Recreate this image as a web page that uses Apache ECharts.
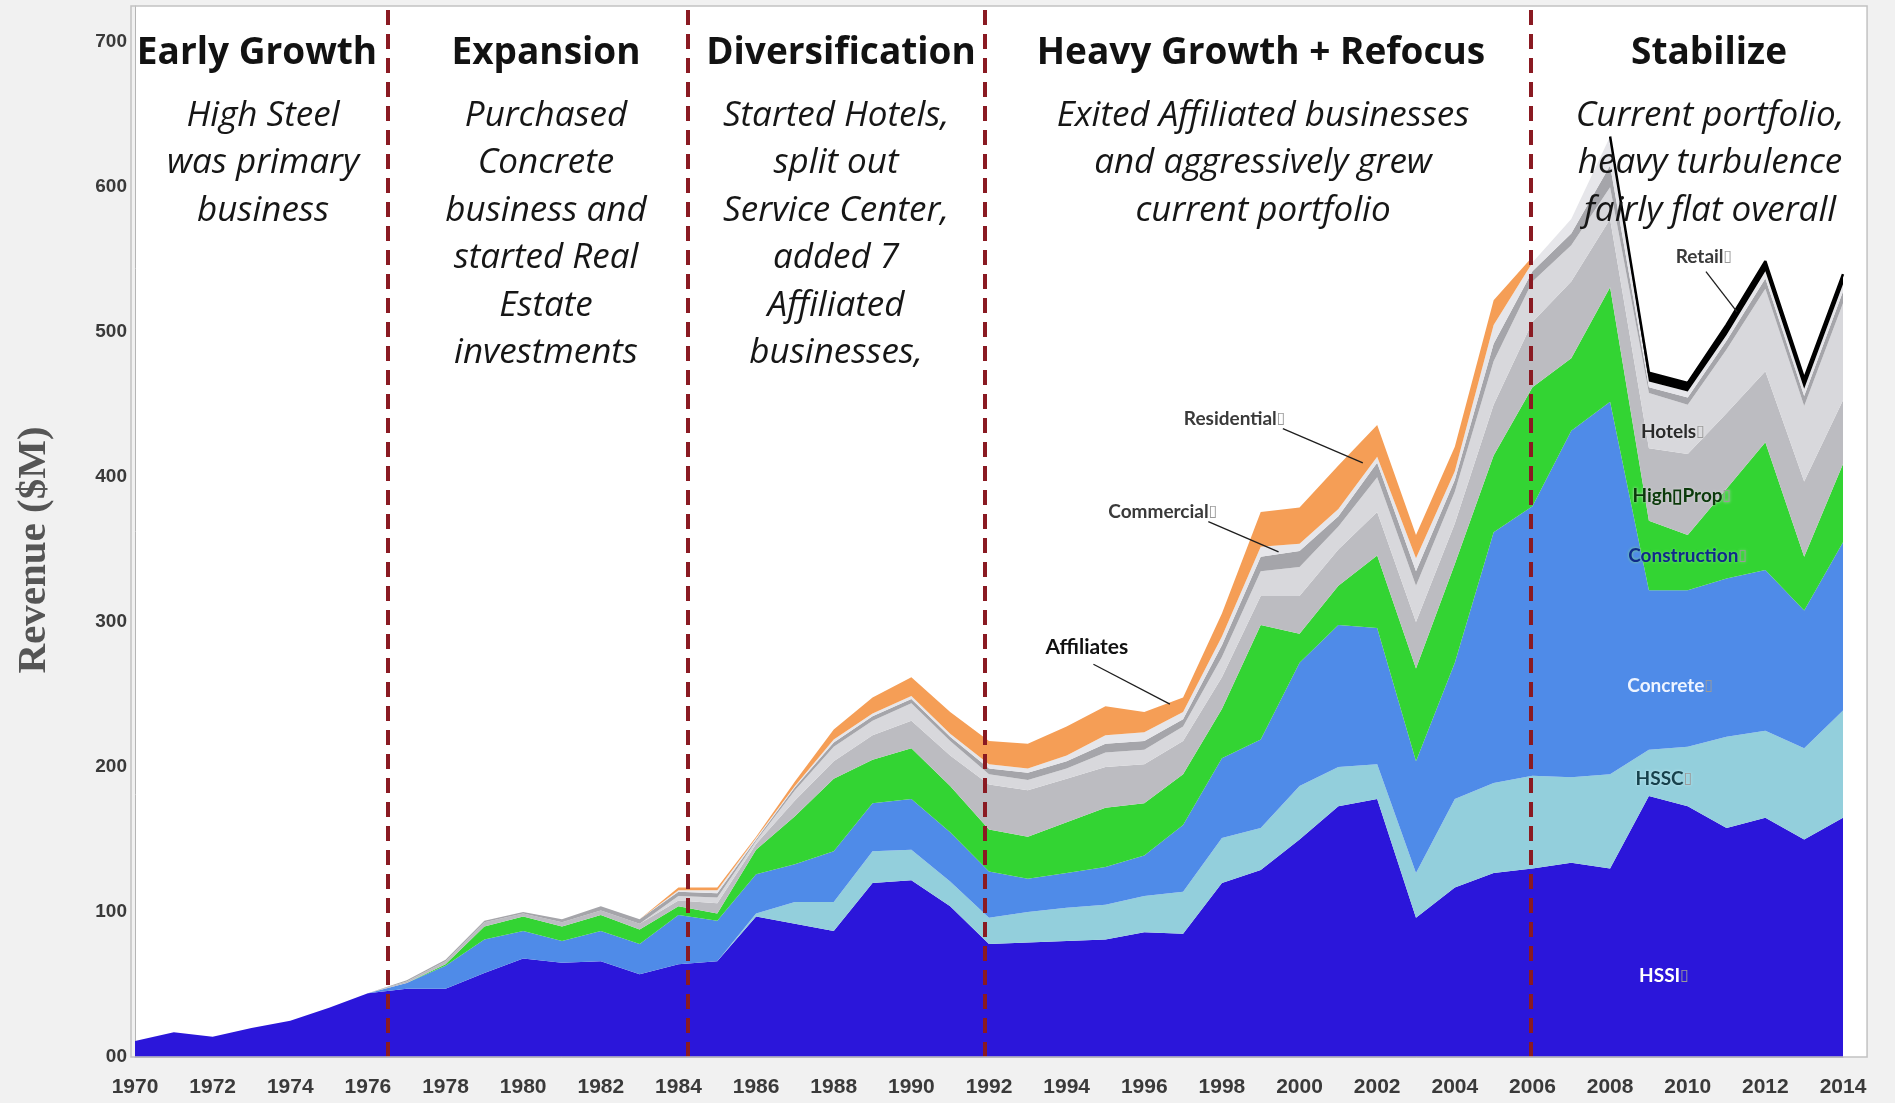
<!DOCTYPE html>
<html>
<head>
<meta charset="utf-8">
<script src="https://cdn.jsdelivr.net/npm/echarts@6/dist/echarts.min.js"></script>
<style>
html,body{margin:0;padding:0;background:#f1f1f1;}
#chart{width:1895px;height:1103px;}
</style>
</head>
<body>
<div id="chart"></div>
<script>
// ---------------- DATA ----------------
const years = ['1970','1971','1972','1973','1974','1975','1976','1977','1978','1979','1980','1981','1982','1983','1984','1985','1986','1987','1988','1989','1990','1991','1992','1993','1994','1995','1996','1997','1998','1999','2000','2001','2002','2003','2004','2005','2006','2007','2008','2009','2010','2011','2012','2013','2014'];

const hssi         = [11,17,14,20,25,34,44,47,47,58,68,65,66,57,64,66,97,92,87,120,122,104,78,79,80,81,86,85,120,129,150,173,178,96,117,127,130,134,130,180,173,158,165,150,165];
const hssc         = [0,0,0,0,0,0,0,0,0,0,0,0,0,0,0,0,2,15,20,22,21,17,18,21,23,24,25,29,31,29,37,27,24,31,61,62,64,59,65,32,41,63,60,63,74];
const concrete     = [0,0,0,0,0,0,0,4,16,23,19,15,21,21,34,28,27,26,35,33,35,34,32,23,24,26,28,46,55,61,85,98,94,77,94,173,186,239,257,110,108,109,111,95,116];
const construction = [0,0,0,0,0,0,0,0,1,9,10,10,11,10,6,5,17,33,50,30,35,32,29,29,35,41,36,35,34,79,20,27,50,64,68,53,82,50,79,48,38,62,88,37,54];
const highProp     = [0,0,0,0,0,0,0,1,2,3,2,3,3,4,4,7,4,11,12,17,19,21,31,32,30,28,27,23,22,20,26,25,30,32,28,35,45,53,47,50,56,52,49,52,44];
const hotels       = [0,0,0,0,0,0,0,0,0,0,0,0,0,0,3,4,2,7,10,10,12,10,7,7,7,10,10,10,14,17,20,16,24,25,22,30,28,25,22,38,34,44,57,52,67];
const commercial   = [0,0,0,0,0,0,0,1,1,1,1,2,3,3,3,3,1,2,3,3,3,3,4,5,5,6,6,5,8,10,11,7,10,10,8,12,7,8,15,4,5,6,7,7,8];
const residential  = [0,0,0,0,0,0,0,0,0,0,0,0,0,0,1,2,1,1,2,2,2,2,3,3,4,6,6,5,6,7,5,5,4,9,6,13,6,10,20,4,4,4,5,5,5];
const affiliates   = [0,0,0,0,0,0,0,0,0,0,0,0,0,0,2,2,1,3,7,11,13,15,16,17,20,20,14,10,16,24,25,30,22,16,17,17,4,null,null,null,null,null,null,null,null];
const retail       = [null,null,null,null,null,null,null,null,null,null,null,null,null,null,null,null,null,null,null,null,null,null,null,null,null,null,null,null,null,null,null,null,null,null,null,null,null,null,0,6,6,7,7,7,7];

const yTicks = [0,100,200,300,400,500,600,700];
const phaseBreaks = [1976.5, 1984.25, 1991.9, 2005.95];
const phaseTitles = ['Early Growth','Expansion','Diversification','Heavy Growth + Refocus','Stabilize'];
const phaseNotes = [
  ['High Steel','was primary','business'],
  ['Purchased','Concrete','business and','started Real','Estate','investments'],
  ['Started Hotels,','split out','Service Center,','added 7','Affiliated','businesses,'],
  ['Exited Affiliated businesses','and aggressively grew','current portfolio'],
  ['Current portfolio,','heavy turbulence','fairly flat overall']
];
const seriesNames = ['HSSI','HSSC','Concrete','Construction','High Prop','Hotels','Commercial','Residential','Affiliates','Retail'];

// ---------------- CHART ----------------
const colors = ['#2b16da','#93cfdc','#4f8be8','#33d433','#bcbcc1','#d8d8dc','#a5a5aa','#e6e6ea','#f59e56','#000000'];
const valueSets = [hssi,hssc,concrete,construction,highProp,hotels,commercial,residential,affiliates,retail];
const firstYear = Number(years[0]), lastYear = Number(years[years.length - 1]);

const series = valueSets.map((vals, i) => ({
  name: seriesNames[i],
  type: 'line',
  stack: 'rev',
  symbol: 'none',
  smooth: false,
  xAxisIndex: 0,
  yAxisIndex: 0,
  data: vals,
  lineStyle: i === 9 ? {width: 2.5, color: '#000'} : {width: 0},
  areaStyle: {color: colors[i], opacity: 1},
  itemStyle: {color: colors[i]},
  silent: true,
  z: 2
}));

series.push({
  name: 'phases',
  type: 'line',
  xAxisIndex: 1,
  yAxisIndex: 0,
  data: [[firstYear, null]],
  symbol: 'none',
  lineStyle: {width: 0},
  z: 10,
  markLine: {
    silent: true,
    symbol: ['none','none'],
    label: {show: false},
    lineStyle: {color: '#8a1a22', width: 4, type: [15, 9]},
    data: phaseBreaks.map(v => ({xAxis: v}))
  }
});

const tickFont = '"Liberation Sans Narrow", "Arial Narrow", Arial, sans-serif';

const option = {
  backgroundColor: '#f1f1f1',
  animation: false,
  grid: {
    left: 135, right: 52, top: 6, bottom: 46,
    show: true, backgroundColor: '#ffffff', borderWidth: 0
  },
  xAxis: [{
    type: 'category',
    data: years,
    boundaryGap: false,
    axisLine: {show: true, lineStyle: {color: '#9a9ab0', width: 1}},
    axisTick: {show: false},
    splitLine: {show: false},
    axisLabel: {
      interval: 1,
      margin: 20,
      color: '#3a3a3a',
      fontFamily: tickFont,
      fontWeight: 'bold',
      fontSize: 21
    }
  }, {
    type: 'value',
    min: firstYear, max: lastYear,
    show: false
  }],
  yAxis: {
    type: 'value',
    min: 0, max: 725, interval: 100,
    axisLine: {show: true, lineStyle: {color: '#b5b5b5', width: 1}},
    axisTick: {show: false},
    splitLine: {show: false},
    axisLabel: {
      showMaxLabel: false,
      margin: 8,
      color: '#3a3a3a',
      fontFamily: tickFont,
      fontWeight: 'bold',
      fontSize: 19,
      formatter: v => v === 0 ? '00' : (yTicks.indexOf(v) >= 0 ? String(v) : '')
    }
  },
  series: series
};

const chart = echarts.init(document.getElementById('chart'), null, {renderer: 'canvas'});
chart.setOption(option);

// ---------------- ANNOTATIONS ----------------
const px = (x, y) => chart.convertToPixel({xAxisIndex: 1, yAxisIndex: 0}, [x, y]);
const g = [];
let gid = 0;
function txt(text, x, y, font, fill) {
  g.push({
    type: 'text', id: 't' + (gid++), x: x, y: y, z: 100,
    style: {text: text, x: 0, y: 0, font: font, fill: fill,
      align: 'center', verticalAlign: 'middle', textAlign: 'center', textVerticalAlign: 'middle'}
  });
}

// frame: white strip after the last year, plus the thin grey border of the plot box
const tl = px(firstYear, 725), br = px(2014.62, 0), lastPt = px(lastYear, 0);
g.push({type: 'rect', id: 'strip', z: 0, silent: true,
  shape: {x: lastPt[0], y: tl[1], width: br[0] - lastPt[0], height: br[1] - tl[1]},
  style: {fill: '#ffffff'}});
g.push({type: 'rect', id: 'frame', z: 90, silent: true,
  shape: {x: tl[0] - 4, y: tl[1], width: br[0] - tl[0] + 4, height: br[1] - tl[1]},
  style: {fill: 'none', stroke: '#c2c2c2', lineWidth: 1.5}});

const titleX = [257, 546, 841, 1261, 1709];
const noteX = [263, 546, 836, 1263, 1710];
const titleFont = 'bold 37px "Open Sans", Lato, sans-serif';
const noteFont = 'italic 35px "Open Sans", Lato, sans-serif';
phaseTitles.forEach((t, i) => txt(t, titleX[i], 53, titleFont, '#121212'));
phaseNotes.forEach((lines, i) => lines.forEach((l, j) => txt(l, noteX[i], 116 + j * 47.5, noteFont, '#161616')));

// y-axis title
g.push({type: 'text', id: 'yname', x: 34, y: 550, rotation: Math.PI / 2, z: 100,
  style: {text: 'Revenue ($M)', x: 0, y: 0, font: 'bold 41px "Liberation Serif", "Times New Roman", serif',
    fill: '#555555', align: 'center', verticalAlign: 'middle', textAlign: 'center', textVerticalAlign: 'middle'}});

// series labels (placed in data coordinates)
const lblFont = 'bold 19px Lato, "Open Sans", sans-serif';
const seriesLabels = [
  {name: 'HSSI', box: true, at: [2009.39, 56], color: '#ffffff', halo: null},
  {name: 'HSSC', box: true, at: [2009.39, 192], color: '#17414c', halo: '#c8eef5'},
  {name: 'Concrete', box: true, at: [2009.55, 256], color: '#eef4ff', halo: null},
  {name: 'Construction', box: true, at: [2010.0, 346], color: '#0f2a8a', halo: '#7fe07f'},
  {name: 'High\u25AFProp', box: true, at: [2009.85, 387], color: '#0b3a0b', halo: '#d8d8d8'},
  {name: 'Hotels', box: true, at: [2009.62, 431], color: '#2a2a2a', halo: '#eeeeee'},
  {name: 'Retail', box: true, at: [2010.42, 552], color: '#3a3a3a', halo: '#ffffff'},
  {name: 'Residential', box: true, at: [1998.33, 440], color: '#3a3a3a', halo: '#ffffff'},
  {name: 'Commercial', box: true, at: [1996.48, 376], color: '#3a3a3a', halo: '#ffffff'},
  {name: 'Affiliates', box: false, at: [1994.52, 282.5], color: '#111111', halo: '#ffffff', big: true}
];
seriesLabels.forEach(l => {
  const p = px(l.at[0], l.at[1]);
  const font = l.big ? 'bold 21px Lato, "Open Sans", sans-serif' : lblFont;
  const style = {
    text: l.box ? '{a|' + l.name + '}{b|\u25AF}' : l.name,
    x: 0, y: 0, font: font, fill: l.color,
    align: 'center', verticalAlign: 'middle', textAlign: 'center', textVerticalAlign: 'middle',
    rich: {
      a: {font: font, fill: l.color, color: l.color},
      b: {font: 'bold 16px "DejaVu Sans", sans-serif', fill: '#9a9a9a', color: '#9a9a9a'}
    }
  };
  if (l.halo) { style.textShadowColor = l.halo; style.textShadowBlur = 3; }
  g.push({type: 'text', id: 'l' + (gid++), x: p[0], y: p[1], z: 100, style: style});
});

// leader lines
const leaders = [
  [[2010.47, 541.7], [2011.27, 514]],
  [[1999.57, 433.4], [2001.63, 409.9]],
  [[1997.65, 369.3], [1999.46, 348.4]],
  [[1994.69, 270.9], [1996.66, 243.4]]
];
leaders.forEach(([a, b]) => {
  const p1 = px(a[0], a[1]), p2 = px(b[0], b[1]);
  g.push({type: 'line', id: 'k' + (gid++), z: 99,
    shape: {x1: p1[0], y1: p1[1], x2: p2[0], y2: p2[1]},
    style: {stroke: '#1e1e1e', lineWidth: 1.3}});
});

chart.setOption({graphic: {elements: g}});
</script>
</body>
</html>
